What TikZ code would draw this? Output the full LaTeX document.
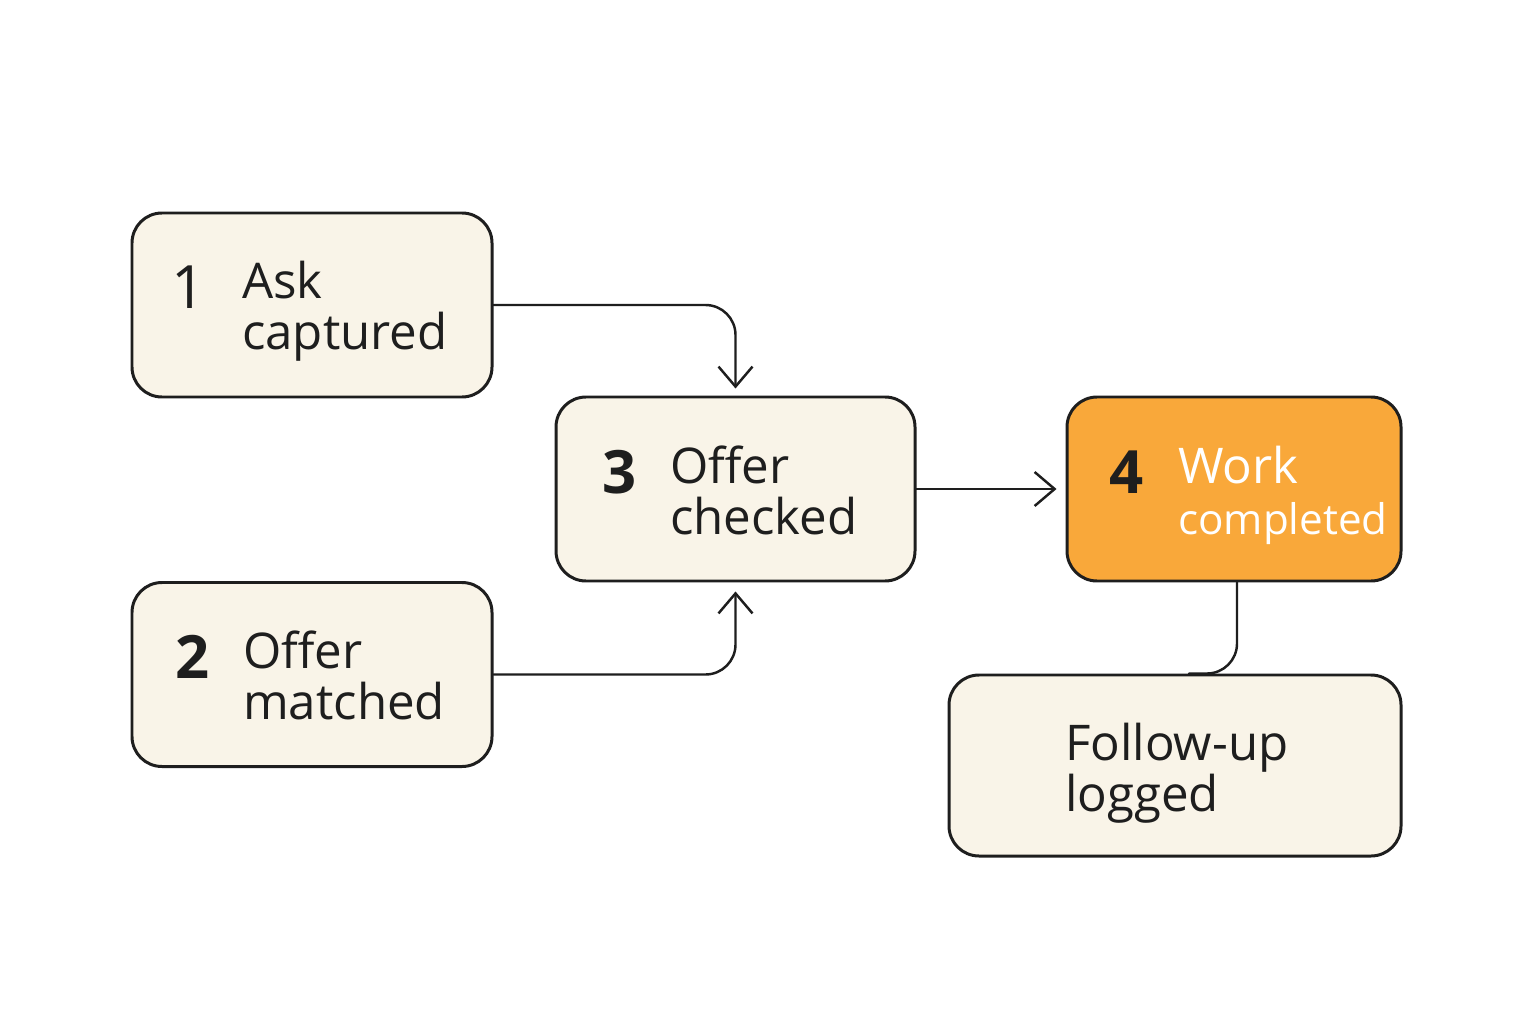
\documentclass[tikz,border=0pt]{standalone}
\usepackage{fontspec}
\setmainfont{Open Sans}
\usetikzlibrary{arrows.meta,positioning}
\definecolor{cream}{HTML}{F9F4E8}
\definecolor{amber}{HTML}{F9A83A}
\definecolor{ink}{HTML}{1E1E1E}

\begin{document}
\begin{tikzpicture}[>={Straight Barb[length=2mm,width=3.4mm]},
  box/.style={draw=ink,line width=0.85pt,rounded corners=3mm,fill=cream,inner sep=0pt,minimum height=1.84cm},
  num/.style={font=\fontsize{17}{17}\selectfont\bfseries,text=ink,anchor=base,inner sep=0pt},
  lbl/.style={font=\fontsize{14}{14.4}\selectfont,text=ink,align=left,anchor=base west,inner sep=0pt},
  link/.style={draw=ink,line width=0.7pt,line cap=round,rounded corners=3mm}]
  \useasboundingbox[fill=white] (0,0) rectangle (15.36,10.24);
  % boxes
  \node[box,minimum width=3.6cm] (b1) at (3.12,7.19) {};
  \node[box,minimum width=3.6cm] (b2) at (3.12,3.495) {};
  \node[box,minimum width=3.59cm] (b3) at (7.355,5.35) {};
  \node[box,minimum width=3.34cm,fill=amber] (b4) at (12.34,5.35) {};
  \node[box,minimum width=4.52cm,minimum height=1.81cm] (b5) at (11.75,2.585) {};
  % numbers and labels (base = last line)
  \node[num,font=\fontsize{17}{17}\selectfont] (n1) at ([shift={(0.58,-0.04)}]b1.west) {1};
  \node[lbl] (t1) at ([shift={(1.11,-0.44)}]b1.west) {Ask\\captured};
  \node[num] (n2) at ([shift={(0.62,-0.04)}]b2.west) {2};
  \node[lbl] (t2) at ([shift={(1.12,-0.45)}]b2.west) {Offer\\matched};
  \node[num] (n3) at ([shift={(0.65,-0.04)}]b3.west) {3};
  \node[lbl] (t3) at ([shift={(1.15,-0.45)}]b3.west) {Offer\\checked};
  \node[num] (n4) at ([shift={(0.61,-0.04)}]b4.west) {4};
  \node[lbl,text=white] (t4) at ([shift={(1.12,-0.45)}]b4.west) {Work\\\fontsize{12}{14.4}\selectfont completed};
  \node[lbl] (t5) at ([shift={(1.17,-0.455)}]b5.west) {Follow-up\\logged};
  % connectors
  \coordinate (j5) at ([xshift=-0.45cm]b4.south |- b5.north);
  \draw[link,->,shorten >=0.07cm] (b1.east) -| (b3.north);
  \draw[link,->,shorten >=0.09cm] (b2.east) -| (b3.south);
  \draw[link,->,shorten >=0.09cm] (b3.east) -- (b4.west);
  \draw[link] ([xshift=0.03cm]b4.south) |- (j5);
\end{tikzpicture}
\end{document}
